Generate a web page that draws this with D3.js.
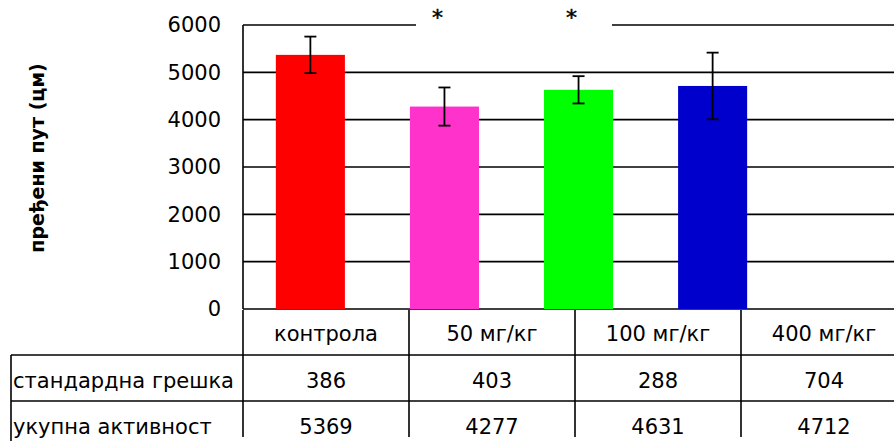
<!DOCTYPE html>
<html>
<head>
<meta charset="utf-8">
<script src="https://cdn.jsdelivr.net/npm/d3@7"></script>
<style>
  body { margin: 0; background: #fff; }
  text { font-family: 'DejaVu Sans', sans-serif; fill: #000; }
</style>
</head>
<body>
<div id="chart"></div>
<script>
const categories = ['контрола', '50 мг/кг', '100 мг/кг', '400 мг/кг'];
const means = [5369, 4277, 4631, 4712];
const errors = [386, 403, 288, 704];
const colors = ['#ff0000', '#ff33cc', '#00ff00', '#0000cc'];
const yTicks = [0, 1000, 2000, 3000, 4000, 5000, 6000];
const rowLabels = ['стандардна грешка', 'укупна активност'];
const marked = ['50 мг/кг', '100 мг/кг'];

const width = 894;
const height = 441;

const svg = d3.select('#chart')
    .append('svg')
    .attr('width', width)
    .attr('height', height);

const y = d3.scaleLinear().domain([0, 6000]).range([309, 25]);

const x = d3.scaleBand()
    .domain(categories)
    .range([243, 780])
    .paddingInner(0.485)
    .paddingOuter(0.245);

// table columns are wider than the bar bands
const col = d3.scaleBand()
    .domain(categories)
    .range([243, 907]);

// gridlines
svg.append('g')
    .selectAll('line')
    .data(yTicks)
    .enter()
    .append('line')
    .attr('x1', 243)
    .attr('x2', width)
    .attr('y1', (d) => y(d))
    .attr('y2', (d) => y(d))
    .attr('stroke', '#000')
    .attr('stroke-width', 1.6);

// tick labels
svg.append('g')
    .selectAll('text')
    .data(yTicks)
    .enter()
    .append('text')
    .attr('x', 221)
    .attr('y', (d) => y(d))
    .attr('dy', '0.35em')
    .attr('text-anchor', 'end')
    .style('font-size', '21px')
    .text((d) => d);

// y axis line
svg.append('line')
    .attr('x1', 243).attr('x2', 243)
    .attr('y1', y(6000)).attr('y2', y(0))
    .attr('stroke', '#000')
    .attr('stroke-width', 1.6);

svg.append('text')
    .attr('transform', 'translate(44,158) rotate(-90)')
    .attr('text-anchor', 'middle')
    .style('font-size', '19px')
    .style('font-weight', 'bold')
    .text('пређени пут (цм)');

// bars
svg.append('g')
    .selectAll('rect')
    .data(categories)
    .enter()
    .append('rect')
    .attr('x', (d) => x(d))
    .attr('width', x.bandwidth())
    .attr('y', (d, i) => y(means[i]))
    .attr('height', (d, i) => y(0) - y(means[i]))
    .attr('fill', (d, i) => colors[i]);

// error bars
const eb = svg.append('g')
    .selectAll('g')
    .data(categories)
    .enter()
    .append('g')
    .attr('stroke', '#000')
    .attr('stroke-width', 1.8);

const cx = (d) => x(d) + x.bandwidth() / 2;
eb.append('line')
    .attr('x1', cx).attr('x2', cx)
    .attr('y1', (d, i) => y(means[i] + errors[i]))
    .attr('y2', (d, i) => y(means[i] - errors[i]));
[1, -1].forEach((s) => {
  eb.append('line')
      .attr('x1', (d) => cx(d) - 6).attr('x2', (d) => cx(d) + 6)
      .attr('y1', (d, i) => y(means[i] + s * errors[i]))
      .attr('y2', (d, i) => y(means[i] + s * errors[i]));
});

// significance marks box
svg.append('rect')
    .attr('x', 416).attr('y', 4)
    .attr('width', 196).attr('height', 30)
    .attr('fill', '#fff');
svg.append('g')
    .selectAll('text')
    .data(marked)
    .enter()
    .append('text')
    .attr('x', (d) => cx(d) - 7)
    .attr('y', 25)
    .attr('text-anchor', 'middle')
    .style('font-size', '22px')
    .style('stroke', '#000')
    .style('stroke-width', 0.5)
    .text('*');

// data table
const rows = [310, 355, 401, 441];
const rowShift = [0, 2, 5];
const table = svg.append('g')
    .attr('stroke', '#000')
    .attr('stroke-width', 1.6);

table.append('line')
    .attr('x1', 11).attr('x2', width)
    .attr('y1', rows[1]).attr('y2', rows[1]);
table.append('line')
    .attr('x1', 11).attr('x2', width)
    .attr('y1', rows[2]).attr('y2', rows[2]);
table.append('line')
    .attr('x1', 11).attr('x2', 11)
    .attr('y1', rows[1]).attr('y2', rows[3]);
table.selectAll('.vline')
    .data(categories)
    .enter()
    .append('line')
    .attr('class', 'vline')
    .attr('x1', (d) => col(d)).attr('x2', (d) => col(d))
    .attr('y1', rows[0]).attr('y2', 437);

const tableRows = [categories, errors, means];
tableRows.forEach((vals, r) => {
  svg.append('g')
      .selectAll('text')
      .data(vals)
      .enter()
      .append('text')
      .attr('x', (d, i) => col(categories[i]) + col.bandwidth() / 2)
      .attr('y', (rows[r] + rows[r + 1]) / 2 + 1 + rowShift[r])
      .attr('dy', '0.35em')
      .attr('text-anchor', 'middle')
      .style('font-size', '21px')
      .text((d) => d);
});

svg.append('g')
    .selectAll('text')
    .data(rowLabels)
    .enter()
    .append('text')
    .attr('x', 13)
    .attr('y', (d, i) => (rows[i + 1] + rows[i + 2]) / 2 + 1 + rowShift[i + 1])
    .attr('dy', '0.35em')
    .style('font-size', '21px')
    .text((d) => d);
</script>
</body>
</html>
